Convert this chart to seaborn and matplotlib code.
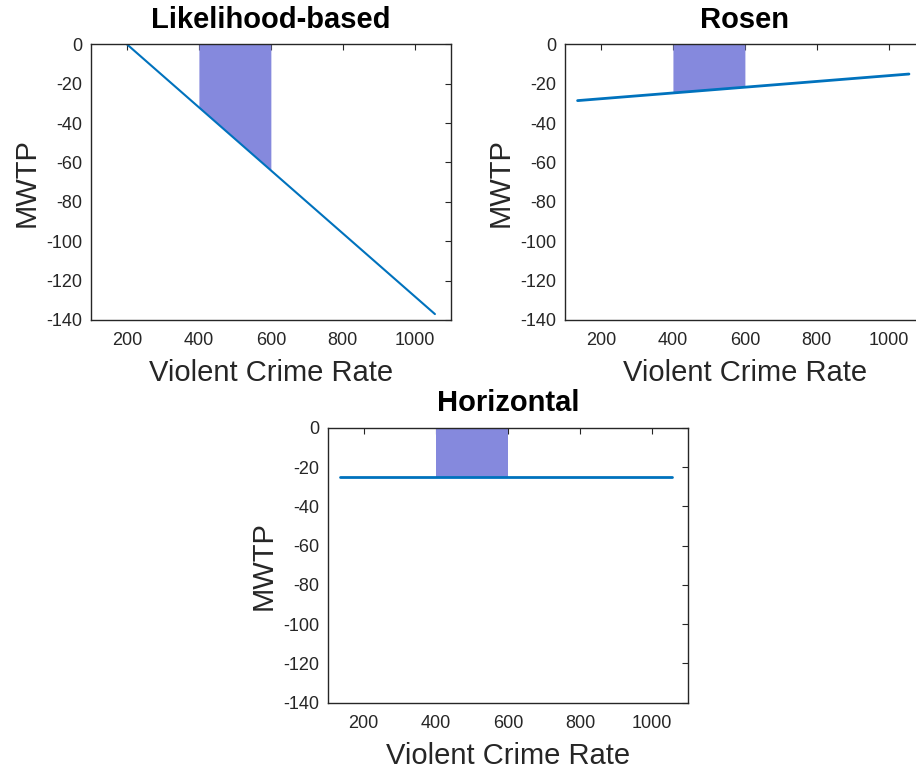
import numpy as np
import pandas as pd
import seaborn as sns
import matplotlib.pyplot as plt

# values
panel_titles = ["Likelihood-based", "Rosen", "Horizontal"]
crime_rate = [135, 1056]
mwtp_likelihood = [10.4, -137.0]
mwtp_rosen = [-28.6, -15.1]
mwtp_horizontal = [-25.3, -25.3]
band_edges = [400, 600]
x_ticks = [200, 400, 600, 800, 1000]
y_ticks = [-140, -120, -100, -80, -60, -40, -20, 0]

line_color = "#0072BD"
band_color = "#8589DD"
ink = "#262626"

sns.set_theme(style="white")
plt.rcParams['font.family'] = ['Liberation Sans', 'DejaVu Sans']
plt.rcParams['axes.unicode_minus'] = False

fig = plt.figure(figsize=(9.16, 7.69), dpi=100)
positions = [
    [0.0993, 0.5839, 0.3928, 0.3585],
    [0.6168, 0.5839, 0.3928, 0.3585],
    [0.3577, 0.0862, 0.3937, 0.3576],
]
series = [mwtp_likelihood, mwtp_rosen, mwtp_horizontal]
widths = [1.5, 2.0, 2.0]

for title, pos, mwtp, lw in zip(panel_titles, positions, series, widths):
    ax = fig.add_axes(pos)
    df = pd.DataFrame({"Violent Crime Rate": crime_rate, "MWTP": mwtp})
    band_low = np.interp(band_edges, crime_rate, mwtp)
    ax.fill_between(band_edges, [0, 0], band_low, color=band_color, linewidth=0, zorder=1)
    sns.lineplot(data=df, x="Violent Crime Rate", y="MWTP", ax=ax,
                 color=line_color, linewidth=lw, zorder=2)
    ax.set_xlim(100, 1100)
    ax.set_ylim(-140, 0)
    ax.set_xticks(x_ticks)
    ax.set_yticks(y_ticks)
    ax.tick_params(direction="in", length=4, width=0.8, colors=ink,
                   labelsize=13, top=True, right=True, pad=6)
    ax.tick_params(axis="x", pad=9)
    for sp in ax.spines.values():
        sp.set_color(ink)
        sp.set_linewidth(1.0)
        sp.set_visible(True)
    ax.set_title(title, fontsize=21, fontweight="bold", color="black", pad=12)
    ax.set_xlabel("Violent Crime Rate", fontsize=21, color=ink, labelpad=7)
    ax.set_ylabel("MWTP", fontsize=21, color=ink, labelpad=4)

plt.savefig("out.png", dpi=100)
